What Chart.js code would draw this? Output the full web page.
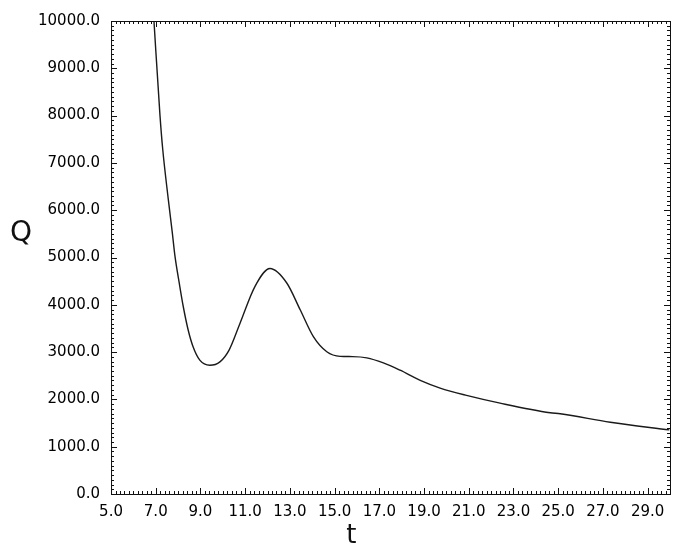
<!DOCTYPE html>
<html>
<head>
<meta charset="utf-8">
<script src="https://cdn.jsdelivr.net/npm/chart.js@4"></script>
<style>
  html, body { margin: 0; padding: 0; background: #fff; }
  #wrap { width: 683px; height: 559px; }
</style>
</head>
<body>
<div id="wrap"><canvas id="qChart" width="683" height="559"></canvas></div>
<script>
// values
const tValues = [6.92, 7.19, 7.31, 7.56, 7.74, 7.86, 8.05, 8.23, 8.45, 8.67, 8.97, 9.42, 9.87, 10.28,
                 10.77, 11.44, 12.11, 12.86, 13.46, 14.05, 14.65, 15.25, 15.8, 16.44, 17.18, 17.93,
                 18.83, 19.72, 20.9, 22.4, 24.64, 25.09, 27.33, 29.97];
const qValues = [10000, 8000, 7298, 6234, 5525, 5028, 4462, 3964, 3468, 3113, 2830, 2723, 2794, 3043,
                 3610, 4390, 4766, 4461, 3894, 3326, 3007, 2910, 2905, 2879, 2772, 2617,
                 2404, 2240, 2085, 1921, 1717, 1696, 1517, 1355];
const xTicks = [5, 7, 9, 11, 13, 15, 17, 19, 21, 23, 25, 27, 29];
const yTicks = [0, 1000, 2000, 3000, 4000, 5000, 6000, 7000, 8000, 9000, 10000];

const xMinorStep = 0.2;
const yMinorStep = 100;

// frame on all four sides with inward ticks, plus the two axis titles
const framePlugin = {
  id: "frame",
  afterDraw(chart) {
    const ctx = chart.ctx;
    const a = chart.chartArea;
    const xs = chart.scales.x;
    const ys = chart.scales.y;
    ctx.save();
    ctx.strokeStyle = "#111";
    ctx.lineWidth = 1;
    ctx.strokeRect(a.left + 0.5, a.top + 0.5, a.right - a.left, a.bottom - a.top);

    ctx.beginPath();
    for (let v = xs.min; v <= xs.max + 1e-9; v += xMinorStep) {
      const major = xTicks.some(t => Math.abs(t - v) < 1e-6);
      const len = major ? 6 : 3;
      const px = Math.round(xs.getPixelForValue(v)) + 0.5;
      ctx.moveTo(px, a.bottom); ctx.lineTo(px, a.bottom - len);
      ctx.moveTo(px, a.top); ctx.lineTo(px, a.top + len);
    }
    for (let v = ys.min; v <= ys.max + 1e-9; v += yMinorStep) {
      const major = yTicks.some(t => Math.abs(t - v) < 1e-6);
      const len = major ? 6 : 3;
      const py = Math.round(ys.getPixelForValue(v)) + 0.5;
      ctx.moveTo(a.left, py); ctx.lineTo(a.left + len, py);
      ctx.moveTo(a.right, py); ctx.lineTo(a.right - len, py);
    }
    ctx.stroke();

    ctx.fillStyle = "#111";
    ctx.textAlign = "center";
    ctx.textBaseline = "middle";
    ctx.font = "28px 'DejaVu Sans'";
    ctx.fillText("Q", a.left - 90, a.top + 0.45 * (a.bottom - a.top));
    ctx.font = "26px 'DejaVu Sans'";
    ctx.fillText("t", a.left + 0.43 * (a.right - a.left), a.bottom + 42);
    ctx.restore();
  }
};

const ctx = document.getElementById("qChart").getContext("2d");

new Chart(ctx, {
  type: "line",
  data: {
    datasets: [{
      data: tValues.map((t, i) => ({ x: t, y: qValues[i] })),
      borderColor: "#1a1a1a",
      borderWidth: 1.4,
      pointRadius: 0,
      fill: false,
      cubicInterpolationMode: "monotone"
    }]
  },
  options: {
    responsive: false,
    animation: false,
    layout: { padding: { left: 27, right: 13, top: 21, bottom: 29 } },
    plugins: { legend: { display: false }, tooltip: { enabled: false } },
    scales: {
      x: {
        type: "linear",
        min: 5,
        max: 30,
        afterBuildTicks: s => { s.ticks = xTicks.map(v => ({ value: v })); },
        grid: { display: false, drawTicks: false },
        border: { display: false },
        ticks: {
          color: "#000",
          padding: 9,
          maxRotation: 0,
          autoSkip: false,
          font: { family: "DejaVu Sans", size: 15 },
          callback: v => v.toFixed(1)
        }
      },
      y: {
        type: "linear",
        min: 0,
        max: 10000,
        afterBuildTicks: s => { s.ticks = yTicks.map(v => ({ value: v })); },
        grid: { display: false, drawTicks: false },
        border: { display: false },
        ticks: {
          color: "#000",
          padding: 11,
          autoSkip: false,
          font: { family: "DejaVu Sans", size: 15 },
          callback: v => v.toFixed(1)
        }
      }
    }
  },
  plugins: [framePlugin]
});
</script>
</body>
</html>
